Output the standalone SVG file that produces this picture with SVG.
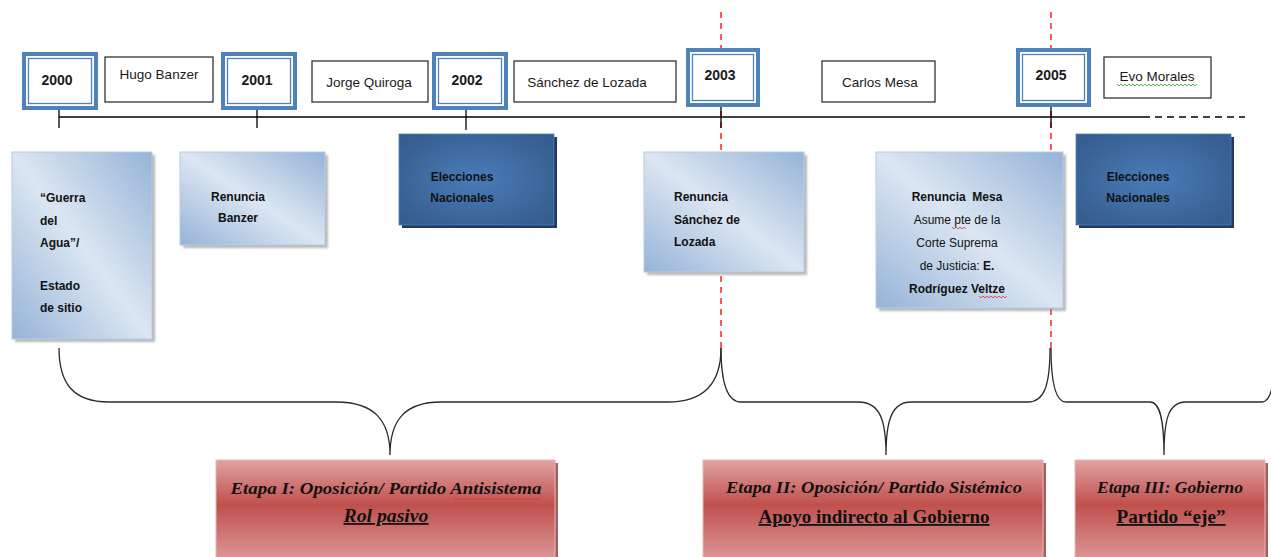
<svg xmlns="http://www.w3.org/2000/svg" width="1271" height="557" viewBox="0 0 1271 557">
<defs>
<linearGradient id="gLight" x1="0" y1="1" x2="1" y2="0">
<stop offset="0" stop-color="#95b3d7"/>
<stop offset="0.5" stop-color="#dce6f2"/>
<stop offset="1" stop-color="#95b3d7"/>
</linearGradient>
<radialGradient id="gDark" cx="0.5" cy="0.5" r="0.6">
<stop offset="0" stop-color="#4a7bb7"/>
<stop offset="1" stop-color="#365f91"/>
</radialGradient>
<linearGradient id="gRed" x1="0" y1="0" x2="0" y2="1">
<stop offset="0" stop-color="#e0a3a2"/>
<stop offset="0.45" stop-color="#c0504d"/>
<stop offset="1" stop-color="#dc9897"/>
</linearGradient>
<filter id="blur" x="-10%" y="-10%" width="120%" height="120%"><feGaussianBlur stdDeviation="1"/></filter>
</defs>
<style>
.yr-out{fill:#4f81bd}
.yr-gap{fill:#fff}
.yr-in{fill:#fff;stroke:#4f81bd;stroke-width:1.3}
.name{fill:#fff;stroke:#333;stroke-width:1.3}
.yt{font-family:"Liberation Sans",Arial,sans-serif;font-size:14px;font-weight:bold;fill:#1a1a1a;text-anchor:middle}
.nt{font-family:"Liberation Sans",Arial,sans-serif;font-size:13.5px;fill:#1a1a1a;text-anchor:middle}
.et{font-family:"Liberation Sans",Arial,sans-serif;font-size:12px;font-weight:bold;fill:#111}
.etn{font-weight:normal}
.shadow{fill:#7f7f7f;opacity:0.55}
.dshadow{fill:#203a5a}
.light{fill:url(#gLight);stroke:#b8cce4;stroke-width:1}
.dark{fill:url(#gDark);stroke:#4f81bd;stroke-width:0.8}
.red{fill:url(#gRed);stroke:#e6b9b8;stroke-width:1}
.rshadow{fill:#8c3836;opacity:0.8}
.st1{font-family:"Liberation Serif","Times New Roman",serif;font-size:17px;font-weight:bold;font-style:italic;fill:#111;text-anchor:middle}
.st2{font-family:"Liberation Serif","Times New Roman",serif;font-size:18px;font-weight:bold;fill:#111;text-anchor:middle;text-decoration:underline}
.line{stroke:#000;stroke-width:1.4;fill:none}
.tick{stroke:#000;stroke-width:1.3}
.reddash{stroke:#ff0000;stroke-width:1.3;stroke-dasharray:6,5;fill:none}
.brace{stroke:#2a2a2a;stroke-width:1.3;fill:none}
.sq-red{stroke:#e03030;stroke-width:0.8;fill:none}
.sq-green{stroke:#2aa02a;stroke-width:0.8;fill:none}
</style>

<g id="guides">
<line class="reddash" x1="721" y1="12" x2="721" y2="350"/>
<line class="reddash" x1="1051" y1="12" x2="1051" y2="350"/>
</g>

<g id="connectors">
<line class="line" x1="59" y1="117" x2="1143" y2="117"/>
<line class="line" x1="1143" y1="117" x2="1245" y2="117" stroke-dasharray="7,5" stroke-width="1.6"/>
<line class="tick" x1="59" y1="110" x2="59" y2="128"/>
<line class="tick" x1="257" y1="110" x2="257" y2="128"/>
<line class="tick" x1="466" y1="110" x2="466" y2="130"/>
<line class="tick" x1="721" y1="107" x2="721" y2="128"/>
<line class="tick" x1="1051" y1="107" x2="1051" y2="128"/>
<path class="brace" d="M59 348 C59 382 72 402 109 402 L336 402 C374 402 390 420 390 455 C390 420 405 402 441 402 L668 402 C705 402 721 382 721 348"/>
<path class="brace" d="M721 348 C721 386 728 402 741 402 L858 402 C880 402 886 420 886 455 C886 420 892 402 911 402 L1028 402 C1044 402 1050 386 1050 348"/>
<path class="brace" d="M1051 348 C1051 386 1057 402 1066 402 L1150 402 C1160 402 1164 420 1164 455 C1164 420 1168 402 1186 402 L1262 402 C1267 402 1270 396 1272 388"/>
</g>

<g id="y2000"><rect class="yr-out" x="22" y="52" width="76" height="58"/><rect class="yr-gap" x="26" y="56" width="68" height="50"/><rect class="yr-in" x="28.5" y="58.5" width="63" height="45"/><text class="yt" x="57" y="85">2000</text></g>
<g id="hugo"><rect class="name" x="105" y="57" width="108" height="45"/><text class="nt" x="159" y="79">Hugo Banzer</text></g>
<g id="y2001"><rect class="yr-out" x="221" y="52" width="76" height="58"/><rect class="yr-gap" x="225" y="56" width="68" height="50"/><rect class="yr-in" x="227.5" y="58.5" width="63" height="45"/><text class="yt" x="257" y="85">2001</text></g>
<g id="quiroga"><rect class="name" x="312" y="61" width="116" height="41"/><text class="nt" x="369" y="87">Jorge Quiroga</text></g>
<g id="y2002"><rect class="yr-out" x="432" y="52" width="76" height="58"/><rect class="yr-gap" x="436" y="56" width="68" height="50"/><rect class="yr-in" x="438.5" y="58.5" width="63" height="45"/><text class="yt" x="467" y="85">2002</text></g>
<g id="lozada"><rect class="name" x="514" y="61" width="162" height="41"/><text class="nt" x="587" y="87">Sánchez de Lozada</text></g>
<g id="y2003"><rect class="yr-out" x="686" y="48" width="74" height="59"/><rect class="yr-gap" x="690" y="52" width="66" height="51"/><rect class="yr-in" x="692.5" y="54.5" width="61" height="46"/><text class="yt" x="720" y="80">2003</text></g>
<g id="mesa"><rect class="name" x="822" y="61" width="113" height="41"/><text class="nt" x="880" y="87">Carlos Mesa</text></g>
<g id="y2005"><rect class="yr-out" x="1016" y="48" width="75" height="59"/><rect class="yr-gap" x="1020" y="52" width="67" height="51"/><rect class="yr-in" x="1022.5" y="54.5" width="62" height="46"/><text class="yt" x="1051" y="80">2005</text></g>
<g id="evo"><rect class="name" x="1104" y="57" width="107" height="41"/><text class="nt" x="1157" y="81">Evo Morales</text><path class="sq-green" d="M1117 84 l2 2 l2 -2 l2 2 l2 -2 l2 2 l2 -2 l2 2 l2 -2 l2 2 l2 -2 l2 2 l2 -2 l2 2 l2 -2 l2 2 l2 -2 l2 2 l2 -2 l2 2 l2 -2 l2 2 l2 -2 l2 2 l2 -2 l2 2 l2 -2 l2 2 l2 -2 l2 2 l2 -2 l2 2 l2 -2 l2 2 l2 -2 l2 2 l2 -2 l2 2 l2 -2 l2 2 l2 -2"/></g>

<g id="guerra">
<rect class="shadow" x="15" y="155" width="140" height="187" filter="url(#blur)"/>
<rect class="light" x="12" y="152" width="140" height="187"/>
<text class="et" x="40" y="202">“Guerra</text>
<text class="et" x="40" y="225">del</text>
<text class="et" x="40" y="247">Agua”/</text>
<text class="et" x="40" y="290">Estado</text>
<text class="et" x="40" y="312">de sitio</text>
</g>
<g id="renBanzer">
<rect class="shadow" x="183" y="155" width="145" height="93" filter="url(#blur)"/>
<rect class="light" x="180" y="152" width="145" height="93"/>
<text class="et" x="238" y="201" text-anchor="middle">Renuncia</text>
<text class="et" x="238" y="222" text-anchor="middle">Banzer</text>
</g>
<g id="elec1">
<rect class="dshadow" x="402" y="137" width="155" height="91"/>
<rect class="dark" x="399" y="134" width="155" height="91"/>
<text class="et" x="462" y="181" text-anchor="middle" fill="#0f1e33">Elecciones</text>
<text class="et" x="462" y="202" text-anchor="middle" fill="#0f1e33">Nacionales</text>
</g>
<g id="renLozada">
<rect class="shadow" x="647" y="155" width="160" height="120" filter="url(#blur)"/>
<rect class="light" x="644" y="152" width="160" height="120"/>
<text class="et" x="674" y="201">Renuncia</text>
<text class="et" x="674" y="224">Sánchez de</text>
<text class="et" x="674" y="246">Lozada</text>
</g>
<g id="renMesa">
<rect class="shadow" x="879" y="155" width="187" height="156" filter="url(#blur)"/>
<rect class="light" x="876" y="152" width="187" height="156"/>
<text class="et" x="957" y="201" text-anchor="middle" xml:space="preserve">Renuncia  Mesa</text>
<text class="et etn" x="957" y="224" text-anchor="middle">Asume pte de la</text>
<path class="sq-red" d="M952 227 l2 2 l2 -2 l2 2 l2 -2 l2 2 l2 -2 l2 2"/>
<text class="et etn" x="957" y="247" text-anchor="middle">Corte Suprema</text>
<text class="et etn" x="957" y="270" text-anchor="middle">de Justicia: <tspan font-weight="bold">E.</tspan></text>
<text class="et" x="957" y="293" text-anchor="middle">Rodríguez Veltze</text>
<path class="sq-red" d="M979 296 l2 2 l2 -2 l2 2 l2 -2 l2 2 l2 -2 l2 2 l2 -2 l2 2 l2 -2 l2 2 l2 -2 l2 2 l2 -2"/>
</g>
<g id="elec2">
<rect class="dshadow" x="1079" y="137" width="155" height="91"/>
<rect class="dark" x="1076" y="134" width="155" height="91"/>
<text class="et" x="1138" y="181" text-anchor="middle" fill="#0f1e33">Elecciones</text>
<text class="et" x="1138" y="202" text-anchor="middle" fill="#0f1e33">Nacionales</text>
</g>

<g id="etapa1">
<rect class="rshadow" x="219" y="463" width="339" height="100"/>
<rect class="red" x="216" y="460" width="339" height="100"/>
<text class="st1" x="386" y="494" textLength="311" lengthAdjust="spacingAndGlyphs">Etapa I: Oposición/ Partido Antisistema</text>
<path class="sq-red" d="M454 498 l2 2 l2 -2 l2 2 l2 -2 l2 2 l2 -2 l2 2 l2 -2 l2 2 l2 -2 l2 2 l2 -2 l2 2 l2 -2 l2 2 l2 -2 l2 2 l2 -2 l2 2 l2 -2 l2 2 l2 -2 l2 2 l2 -2 l2 2 l2 -2 l2 2 l2 -2 l2 2 l2 -2 l2 2 l2 -2 l2 2 l2 -2 l2 2 l2 -2 l2 2 l2 -2 l2 2 l2 -2 l2 2 l2 -2 l2 2" stroke-width="1"/>
<text class="st2" x="386" y="522" font-style="italic" textLength="85" lengthAdjust="spacingAndGlyphs">Rol pasivo</text>
</g>
<g id="etapa2">
<rect class="rshadow" x="706" y="463" width="340" height="100"/>
<rect class="red" x="703" y="460" width="340" height="100"/>
<text class="st1" x="874" y="493" textLength="296" lengthAdjust="spacingAndGlyphs">Etapa II: Oposición/ Partido Sistémico</text>
<text class="st2" x="874" y="523" textLength="231" lengthAdjust="spacingAndGlyphs">Apoyo indirecto al Gobierno</text>
</g>
<g id="etapa3">
<rect class="rshadow" x="1078" y="463" width="190" height="100"/>
<rect class="red" x="1075" y="460" width="190" height="100"/>
<text class="st1" x="1170" y="493" textLength="146" lengthAdjust="spacingAndGlyphs">Etapa III: Gobierno</text>
<text class="st2" x="1171" y="523" textLength="109" lengthAdjust="spacingAndGlyphs">Partido “eje”</text>
</g>
</svg>
